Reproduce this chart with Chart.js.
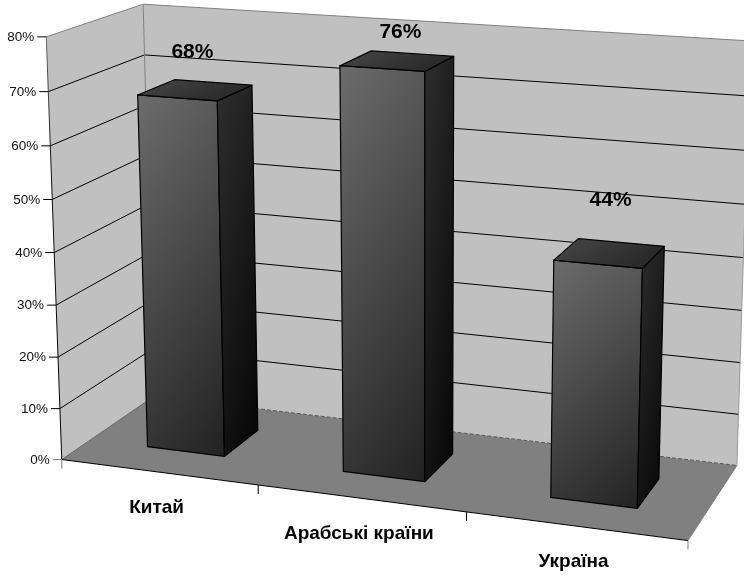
<!DOCTYPE html>
<html><head><meta charset="utf-8">
<style>html,body{margin:0;padding:0;background:#fff}canvas{display:block}</style>
<script src="https://cdn.jsdelivr.net/npm/chart.js@4"></script>
</head><body><canvas id="c" width="744" height="576"></canvas>
<script>
const categories = ["Китай", "Арабські країни", "Україна"];
const shareValues = [68, 76, 44];
const valueTicks = [0, 10, 20, 30, 40, 50, 60, 70, 80];

// Camera calibration: unit-cube corners [X,Y,Z] seen at pixel [u,v]
const cubeWorld = [[0,0,0],[0,1,0],[1,0,0],[0,0,1],[0,1,1],[1,0,1],[1,1,1]];
const cubePixel = [[62.5,459],[45.5,37],[688,541],[153,397],[144,4],[737,465],[750,41]];
const barDepth = [0.3, 0.7];
const labelOffsets = [[-3,-38],[3,-29],[1,-53]];

function solve(A,b){const n=b.length;const M=A.map((r,i)=>[...r,b[i]]);
  for(let i=0;i<n;i++){let p=i;for(let k=i+1;k<n;k++)if(Math.abs(M[k][i])>Math.abs(M[p][i]))p=k;
    [M[i],M[p]]=[M[p],M[i]];
    for(let k=0;k<n;k++){if(k===i)continue;const f=M[k][i]/M[i][i];for(let j=i;j<=n;j++)M[k][j]-=f*M[i][j];}}
  return M.map((r,i)=>r[n]/r[i]);}
function calibrate(){const rows=[],rhs=[];
  cubeWorld.forEach(([X,Y,Z],i)=>{const u=cubePixel[i][0]/1000,v=cubePixel[i][1]/1000;
    rows.push([X,Y,Z,1,0,0,0,0,-u*X,-u*Y,-u*Z]);rhs.push(u);
    rows.push([0,0,0,0,X,Y,Z,1,-v*X,-v*Y,-v*Z]);rhs.push(v);});
  const N=11,A=[],b=[];
  for(let i=0;i<N;i++){A.push(new Array(N).fill(0));b.push(0);
    rows.forEach((r,k)=>{for(let j=0;j<N;j++)A[i][j]+=r[i]*r[j];b[i]+=r[i]*rhs[k];});}
  return solve(A,b);}
const P=calibrate();
function project(X,Y,Z){const w=P[8]*X+P[9]*Y+P[10]*Z+1;
  return [1000*(P[0]*X+P[1]*Y+P[2]*Z+P[3])/w,1000*(P[4]*X+P[5]*Y+P[6]*Z+P[7])/w];}

function poly(ctx,pts,fill,stroke,lw){ctx.beginPath();pts.forEach((p,i)=>i?ctx.lineTo(p[0],p[1]):ctx.moveTo(p[0],p[1]));ctx.closePath();
  if(fill){ctx.fillStyle=fill;ctx.fill();}
  if(stroke){ctx.strokeStyle=stroke;ctx.lineWidth=lw||1;ctx.stroke();}}
function line(ctx,a,b,color,lw,dash){ctx.beginPath();ctx.setLineDash(dash||[]);ctx.moveTo(a[0],a[1]);ctx.lineTo(b[0],b[1]);ctx.strokeStyle=color;ctx.lineWidth=lw||1;ctx.stroke();ctx.setLineDash([]);}
function grad(ctx,a,b,stops){const g=ctx.createLinearGradient(a[0],a[1],b[0],b[1]);stops.forEach(([o,c])=>g.addColorStop(o,c));return g;}
// Gradient over a face's bounding box, running across (weight wu) and down (weight wv)
function boxGrad(ctx,pts,wu,wv,stops){const xs=pts.map(p=>p[0]),ys=pts.map(p=>p[1]);
  const x0=Math.min(...xs),y0=Math.min(...ys),w=Math.max(...xs)-x0,h=Math.max(...ys)-y0;
  const dx=wu/w,dy=wv/h,d=dx*dx+dy*dy;
  return grad(ctx,[x0,y0],[x0+dx/d,y0+dy/d],stops);}

const scene3d={id:'scene3d',
  beforeDatasetsDraw(chart){const ctx=chart.ctx,y=chart.scales.y;
    const vy=v=>(y.bottom-y.getPixelForValue(v))/(y.bottom-y.top);
    ctx.save();
    poly(ctx,[project(0,0,0),project(0,1,0),project(0,1,1),project(0,0,1)],'#c0c0c0');
    poly(ctx,[project(0,0,1),project(0,1,1),project(1,1,1),project(1,0,1)],'#c0c0c0');
    poly(ctx,[project(0,0,0),project(0,0,1),project(1,0,1),project(1,0,0)],'#808080');
    y.ticks.forEach(t=>{const f=vy(t.value);
      if(f<=0||f>=1)return;
      line(ctx,project(0,f,0),project(0,f,1),'#000');
      line(ctx,project(0,f,1),project(1,f,1),'#000');});
    line(ctx,project(0,1,0),project(0,1,1),'#808080');
    line(ctx,project(0,1,1),project(1,1,1),'#808080');
    line(ctx,project(0,0,1),project(0,1,1),'#808080');
    line(ctx,project(1,0,1),project(1,1,1),'#999');
    const lt=project(0,1,0),lb=project(0,0,0);
    line(ctx,lb,lt,grad(ctx,lt,lb,[[0,'#666'],[.3,'#111'],[1,'#000']]));
    line(ctx,project(0,0,0),project(0,0,1),'#666');
    line(ctx,project(0,0,1),project(1,0,1),'#555',1,[4,2]);
    line(ctx,project(1,0,0),project(1,0,1),'#808080');
    line(ctx,project(0,0,0),project(1,0,0),'#000');
    ctx.font='13.5px "Liberation Sans"';ctx.textAlign='right';ctx.textBaseline='middle';
    y.ticks.forEach(t=>{const f=vy(t.value),p=project(0,f,0);
      line(ctx,[p[0]-9,p[1]],p,f===0?'#808080':'#000');
      ctx.fillStyle='#111';ctx.fillText(t.label,p[0]-12,p[1]+0.5);});
    const n=categories.length;
    for(let i=0;i<=n;i++){const p=project(i/n,0,0);line(ctx,p,[p[0],p[1]+9],i%n===0?'#808080':'#000');}
    ctx.fillStyle='#000';ctx.font='bold 19px "Liberation Sans"';ctx.textAlign='center';
    chart.data.labels.forEach((lab,i)=>{const p=project((i+.5)/n,0,0);ctx.fillText(lab,p[0]-2,p[1]+35.5);});
    ctx.restore();},
  beforeDatasetDraw(chart,args){const ctx=chart.ctx,a=chart.chartArea;
    const meta=chart.getDatasetMeta(args.index);
    ctx.save();ctx.lineJoin='round';
    meta.data.forEach(el=>{const x0=(el.x-el.width/2-a.left)/(a.right-a.left),x1=(el.x+el.width/2-a.left)/(a.right-a.left);
      const v=(a.bottom-el.y)/(a.bottom-a.top),[z0,z1]=barDepth;
      const fbl=project(x0,0,z0),fbr=project(x1,0,z0),ftl=project(x0,v,z0),ftr=project(x1,v,z0);
      const bbr=project(x1,0,z1),btr=project(x1,v,z1),btl=project(x0,v,z1);
      const front=[ftl,ftr,fbr,fbl],side=[ftr,btr,bbr,fbr],top=[ftl,btl,btr,ftr];
      poly(ctx,front,boxGrad(ctx,front,.26,.74,[[0,'#6c6c6c'],[1,'#222']]),'#000',1.2);
      poly(ctx,side,boxGrad(ctx,side,.35,.65,[[0,'#2e2e2e'],[1,'#050505']]),'#000',1.2);
      poly(ctx,top,boxGrad(ctx,top,.7,.3,[[0,'#484848'],[1,'#222']]),'#000',1.2);
    });
    ctx.restore();return false;},
  afterDatasetsDraw(chart){const ctx=chart.ctx,a=chart.chartArea,meta=chart.getDatasetMeta(0);
    ctx.save();ctx.fillStyle='#000';ctx.font='bold 21px "Liberation Sans"';ctx.textAlign='center';ctx.textBaseline='middle';
    meta.data.forEach((el,i)=>{const X=(el.x-a.left)/(a.right-a.left),v=(a.bottom-el.y)/(a.bottom-a.top);
      const q=project(X,v,(barDepth[0]+barDepth[1])/2);
      ctx.fillText(shareValues[i]+'%',q[0]+labelOffsets[i][0],q[1]+labelOffsets[i][1]);});
    ctx.restore();}
};
new Chart(document.getElementById('c'),{type:'bar',
  data:{labels:categories,datasets:[{label:'Частка',data:shareValues,backgroundColor:'#555',categoryPercentage:0.4,barPercentage:1}]},
  options:{responsive:false,animation:false,events:[],
    layout:{padding:0},
    plugins:{legend:{display:false},tooltip:{enabled:false}},
    scales:{x:{display:false},y:{display:false,min:0,max:80,afterBuildTicks(s){s.ticks=valueTicks.map(v=>({value:v}));},ticks:{stepSize:10,callback:v=>v+'%'}}}},
  plugins:[scene3d]});
</script></body></html>
